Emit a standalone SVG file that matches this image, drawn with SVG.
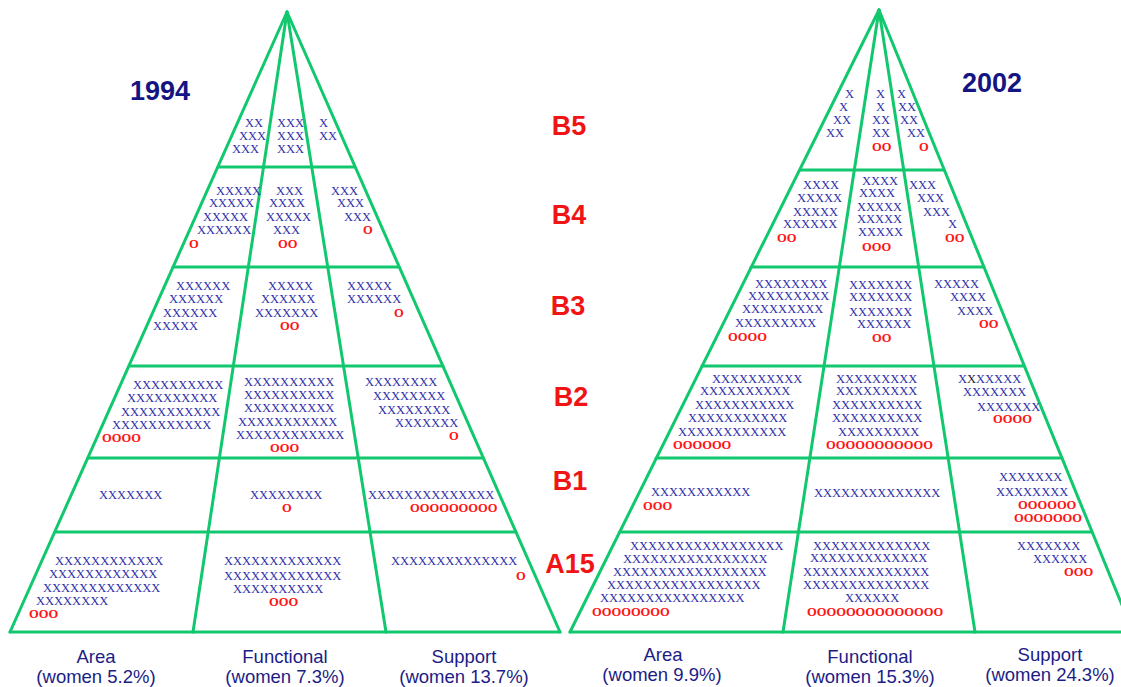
<svg xmlns="http://www.w3.org/2000/svg" width="1121" height="687" viewBox="0 0 1121 687">
  <style>
    .grid line { stroke: #12c86e; stroke-width: 3; stroke-linecap: round; }
    .x { font-family: "Liberation Serif", "Times New Roman", serif; font-size: 12.5px; fill: #2e2eaa; }
    .o { font-family: "Liberation Serif", "Times New Roman", serif; font-size: 12.5px; font-weight: bold; fill: #ff1414; }
    .year { font-family: "Liberation Sans", Arial, sans-serif; font-size: 27px; font-weight: bold; fill: #141482; text-anchor: middle; }
    .band { font-family: "Liberation Sans", Arial, sans-serif; font-size: 27px; font-weight: bold; fill: #f01414; text-anchor: middle; }
    .cat { font-family: "Liberation Sans", Arial, sans-serif; font-size: 18.5px; fill: #1c1c86; text-anchor: middle; }
  </style>
  <rect width="1121" height="687" fill="#ffffff"/>

  <!-- pyramid outlines, column dividers and band separators -->
  <g id="connectors" class="grid">
    <!-- 1994 pyramid -->
    <line x1="287" y1="12" x2="10" y2="632"/>
    <line x1="287" y1="12" x2="560" y2="632"/>
    <line x1="287" y1="12" x2="193" y2="632"/>
    <line x1="287" y1="12" x2="386" y2="632"/>
    <line x1="218" y1="167" x2="354" y2="167"/>
    <line x1="173" y1="267" x2="399" y2="267"/>
    <line x1="129" y1="366" x2="443" y2="366"/>
    <line x1="88" y1="458" x2="483" y2="458"/>
    <line x1="55" y1="532" x2="516" y2="532"/>
    <line x1="10" y1="632" x2="560" y2="632"/>
    <!-- 2002 pyramid -->
    <line x1="879" y1="10" x2="570" y2="632"/>
    <line x1="879" y1="10" x2="1133" y2="632"/>
    <line x1="879" y1="10" x2="783" y2="632"/>
    <line x1="879" y1="10" x2="975" y2="632"/>
    <line x1="800" y1="170" x2="944" y2="170"/>
    <line x1="751" y1="267" x2="984" y2="267"/>
    <line x1="702" y1="366" x2="1024" y2="366"/>
    <line x1="656" y1="458" x2="1062" y2="458"/>
    <line x1="620" y1="532" x2="1092" y2="532"/>
    <line x1="570" y1="632" x2="1125" y2="632"/>
  </g>

  <!-- titles and band names -->
  <g id="titles">
    <text class="year" x="160" y="100">1994</text>
    <text class="year" x="992" y="92">2002</text>
  </g>
  <g id="bands">
    <text class="band" x="569" y="135">B5</text>
    <text class="band" x="569" y="224">B4</text>
    <text class="band" x="568" y="315">B3</text>
    <text class="band" x="571" y="406">B2</text>
    <text class="band" x="570" y="490">B1</text>
    <text class="band" x="570" y="573">A15</text>
  </g>

  <!-- column captions -->
  <g id="captions-1994">
    <text class="cat" x="96" y="663">Area</text>
    <text class="cat" x="96" y="683">(women 5.2%)</text>
    <text class="cat" x="285" y="663">Functional</text>
    <text class="cat" x="285" y="683">(women 7.3%)</text>
    <text class="cat" x="464" y="663">Support</text>
    <text class="cat" x="464" y="683">(women 13.7%)</text>
  </g>
  <g id="captions-2002">
    <text class="cat" x="663" y="661">Area</text>
    <text class="cat" x="662" y="681">(women 9.9%)</text>
    <text class="cat" x="870" y="663">Functional</text>
    <text class="cat" x="870" y="683">(women 15.3%)</text>
    <text class="cat" x="1050" y="661">Support</text>
    <text class="cat" x="1050" y="681">(women 24.3%)</text>
  </g>

  <!-- ===== 1994 cells ===== -->
  <g id="y1994-B5-area">
    <text class="x" x="245" y="127">XX</text>
    <text class="x" x="239" y="140">XXX</text>
    <text class="x" x="232" y="153">XXX</text>
  </g>
  <g id="y1994-B5-functional">
    <text class="x" x="277" y="127">XXX</text>
    <text class="x" x="277" y="140">XXX</text>
    <text class="x" x="277" y="153">XXX</text>
  </g>
  <g id="y1994-B5-support">
    <text class="x" x="319" y="127">X</text>
    <text class="x" x="319" y="140">XX</text>
  </g>

  <g id="y1994-B4-area">
    <text class="x" x="216" y="195">XXXXX</text>
    <text class="x" x="209" y="207">XXXXX</text>
    <text class="x" x="203" y="221">XXXXX</text>
    <text class="x" x="197" y="234">XXXXXX</text>
    <text class="o" x="189" y="248">O</text>
  </g>
  <g id="y1994-B4-functional">
    <text class="x" x="276" y="195">XXX</text>
    <text class="x" x="269" y="207">XXXX</text>
    <text class="x" x="266" y="221">XXXXX</text>
    <text class="x" x="273" y="234">XXX</text>
    <text class="o" x="278" y="248">OO</text>
  </g>
  <g id="y1994-B4-support">
    <text class="x" x="331" y="195">XXX</text>
    <text class="x" x="337" y="207">XXX</text>
    <text class="x" x="344" y="221">XXX</text>
    <text class="o" x="363" y="234">O</text>
  </g>

  <g id="y1994-B3-area">
    <text class="x" x="176" y="290">XXXXXX</text>
    <text class="x" x="169" y="303">XXXXXX</text>
    <text class="x" x="163" y="317">XXXXXX</text>
    <text class="x" x="153" y="330">XXXXX</text>
  </g>
  <g id="y1994-B3-functional">
    <text class="x" x="268" y="290">XXXXX</text>
    <text class="x" x="261" y="303">XXXXXX</text>
    <text class="x" x="255" y="317">XXXXXXX</text>
    <text class="o" x="280" y="330">OO</text>
  </g>
  <g id="y1994-B3-support">
    <text class="x" x="347" y="290">XXXXX</text>
    <text class="x" x="347" y="303">XXXXXX</text>
    <text class="o" x="394" y="317">O</text>
  </g>

  <g id="y1994-B2-area">
    <text class="x" x="133" y="389">XXXXXXXXXX</text>
    <text class="x" x="127" y="402">XXXXXXXXXX</text>
    <text class="x" x="121" y="416">XXXXXXXXXXX</text>
    <text class="x" x="112" y="429">XXXXXXXXXXX</text>
    <text class="o" x="102" y="442">OOOO</text>
  </g>
  <g id="y1994-B2-functional">
    <text class="x" x="244" y="386">XXXXXXXXXX</text>
    <text class="x" x="244" y="399">XXXXXXXXXX</text>
    <text class="x" x="244" y="412">XXXXXXXXXX</text>
    <text class="x" x="238" y="426">XXXXXXXXXXX</text>
    <text class="x" x="236" y="439">XXXXXXXXXXXX</text>
    <text class="o" x="270" y="452">OOO</text>
  </g>
  <g id="y1994-B2-support">
    <text class="x" x="365" y="386">XXXXXXXX</text>
    <text class="x" x="373" y="400">XXXXXXXX</text>
    <text class="x" x="378" y="414">XXXXXXXX</text>
    <text class="x" x="395" y="427">XXXXXXX</text>
    <text class="o" x="449" y="440">O</text>
  </g>

  <g id="y1994-B1-area">
    <text class="x" x="99" y="499">XXXXXXX</text>
  </g>
  <g id="y1994-B1-functional">
    <text class="x" x="250" y="499">XXXXXXXX</text>
    <text class="o" x="282" y="512">O</text>
  </g>
  <g id="y1994-B1-support">
    <text class="x" x="368" y="499">XXXXXXXXXXXXXX</text>
    <text class="o" x="410" y="512">OOOOOOOOO</text>
  </g>

  <g id="y1994-A15-area">
    <text class="x" x="55" y="565">XXXXXXXXXXXX</text>
    <text class="x" x="49" y="578">XXXXXXXXXXXX</text>
    <text class="x" x="43" y="592">XXXXXXXXXXXXX</text>
    <text class="x" x="36" y="605">XXXXXXXX</text>
    <text class="o" x="29" y="618">OOO</text>
  </g>
  <g id="y1994-A15-functional">
    <text class="x" x="224" y="565">XXXXXXXXXXXXX</text>
    <text class="x" x="224" y="580">XXXXXXXXXXXXX</text>
    <text class="x" x="233" y="593">XXXXXXXXXX</text>
    <text class="o" x="269" y="606">OOO</text>
  </g>
  <g id="y1994-A15-support">
    <text class="x" x="391" y="565">XXXXXXXXXXXXXX</text>
    <text class="o" x="516" y="580">O</text>
  </g>

  <!-- ===== 2002 cells ===== -->
  <g id="y2002-B5-area">
    <text class="x" x="845" y="98">X</text>
    <text class="x" x="839" y="111">X</text>
    <text class="x" x="833" y="124">XX</text>
    <text class="x" x="826" y="137">XX</text>
  </g>
  <g id="y2002-B5-functional">
    <text class="x" x="876" y="98">X</text>
    <text class="x" x="876" y="111">X</text>
    <text class="x" x="872" y="124">XX</text>
    <text class="x" x="872" y="137">XX</text>
    <text class="o" x="872" y="151">OO</text>
  </g>
  <g id="y2002-B5-support">
    <text class="x" x="897" y="98">X</text>
    <text class="x" x="898" y="111">XX</text>
    <text class="x" x="900" y="124">XX</text>
    <text class="x" x="907" y="137">XX</text>
    <text class="o" x="919" y="151">O</text>
  </g>

  <g id="y2002-B4-area">
    <text class="x" x="803" y="189">XXXX</text>
    <text class="x" x="797" y="202">XXXXX</text>
    <text class="x" x="793" y="216">XXXXX</text>
    <text class="x" x="783" y="228">XXXXXX</text>
    <text class="o" x="777" y="242">OO</text>
  </g>
  <g id="y2002-B4-functional">
    <text class="x" x="862" y="185">XXXX</text>
    <text class="x" x="859" y="197">XXXX</text>
    <text class="x" x="857" y="211">XXXXX</text>
    <text class="x" x="857" y="223">XXXXX</text>
    <text class="x" x="858" y="236">XXXXX</text>
    <text class="o" x="862" y="251">OOO</text>
  </g>
  <g id="y2002-B4-support">
    <text class="x" x="909" y="189">XXX</text>
    <text class="x" x="917" y="202">XXX</text>
    <text class="x" x="923" y="216">XXX</text>
    <text class="x" x="948" y="228">X</text>
    <text class="o" x="945" y="242">OO</text>
  </g>

  <g id="y2002-B3-area">
    <text class="x" x="755" y="288">XXXXXXXX</text>
    <text class="x" x="748" y="300">XXXXXXXXX</text>
    <text class="x" x="742" y="313">XXXXXXXXX</text>
    <text class="x" x="735" y="327">XXXXXXXXX</text>
    <text class="o" x="728" y="341">OOOO</text>
  </g>
  <g id="y2002-B3-functional">
    <text class="x" x="849" y="289">XXXXXXX</text>
    <text class="x" x="849" y="301">XXXXXXX</text>
    <text class="x" x="849" y="316">XXXXXXX</text>
    <text class="x" x="857" y="328">XXXXXX</text>
    <text class="o" x="872" y="342">OO</text>
  </g>
  <g id="y2002-B3-support">
    <text class="x" x="934" y="288">XXXXX</text>
    <text class="x" x="950" y="301">XXXX</text>
    <text class="x" x="957" y="315">XXXX</text>
    <text class="o" x="979" y="328">OO</text>
  </g>

  <g id="y2002-B2-area">
    <text class="x" x="712" y="383">XXXXXXXXXX</text>
    <text class="x" x="700" y="395">XXXXXXXXXX</text>
    <text class="x" x="695" y="409">XXXXXXXXXXX</text>
    <text class="x" x="688" y="422">XXXXXXXXXXX</text>
    <text class="x" x="678" y="436">XXXXXXXXXXXX</text>
    <text class="o" x="673" y="449">OOOOOO</text>
  </g>
  <g id="y2002-B2-functional">
    <text class="x" x="836" y="383">XXXXXXXXX</text>
    <text class="x" x="836" y="395">XXXXXXXXX</text>
    <text class="x" x="832" y="409">XXXXXXXXXX</text>
    <text class="x" x="832" y="422">XXXXXXXXXX</text>
    <text class="x" x="838" y="436">XXXXXXXXX</text>
    <text class="o" x="826" y="449">OOOOOOOOOOO</text>
  </g>
  <g id="y2002-B2-support">
    <text class="x" x="958" y="383">X<tspan fill="#222222">X</tspan>XXXXX</text>
    <text class="x" x="963" y="396">XXXXXXX</text>
    <text class="x" x="977" y="411">XXXXXXX</text>
    <text class="o" x="993" y="423">OOOO</text>
  </g>

  <g id="y2002-B1-area">
    <text class="x" x="651" y="496">XXXXXXXXXXX</text>
    <text class="o" x="643" y="510">OOO</text>
  </g>
  <g id="y2002-B1-functional">
    <text class="x" x="814" y="497">XXXXXXXXXXXXXX</text>
  </g>
  <g id="y2002-B1-support">
    <text class="x" x="999" y="481">XXXXXXX</text>
    <text class="x" x="996" y="496">XXXXXXXX</text>
    <text class="o" x="1018" y="509">OOOOOO</text>
    <text class="o" x="1014" y="522">OOOOOOO</text>
  </g>

  <g id="y2002-A15-area">
    <text class="x" x="630" y="550">XXXXXXXXXXXXXXXXX</text>
    <text class="x" x="623" y="563">XXXXXXXXXXXXXXXX</text>
    <text class="x" x="613" y="576">XXXXXXXXXXXXXXXXX</text>
    <text class="x" x="607" y="589">XXXXXXXXXXXXXXXXX</text>
    <text class="x" x="600" y="602">XXXXXXXXXXXXXXXX</text>
    <text class="o" x="592" y="616">OOOOOOOO</text>
  </g>
  <g id="y2002-A15-functional">
    <text class="x" x="813" y="550">XXXXXXXXXXXXX</text>
    <text class="x" x="810" y="562">XXXXXXXXXXXXX</text>
    <text class="x" x="803" y="576">XXXXXXXXXXXXXX</text>
    <text class="x" x="803" y="589">XXXXXXXXXXXXXX</text>
    <text class="x" x="845" y="602">XXXXXX</text>
    <text class="o" x="807" y="616">OOOOOOOOOOOOOO</text>
  </g>
  <g id="y2002-A15-support">
    <text class="x" x="1017" y="550">XXXXXXX</text>
    <text class="x" x="1033" y="563">XXXXXX</text>
    <text class="o" x="1064" y="576">OOO</text>
  </g>
</svg>
